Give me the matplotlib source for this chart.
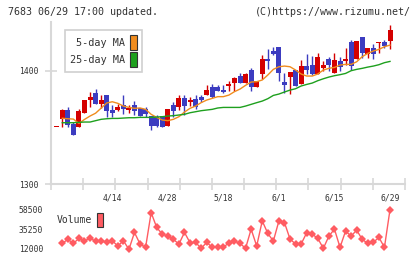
import numpy as np
import matplotlib
matplotlib.use("Agg")
import matplotlib.pyplot as plt
from matplotlib.patches import Patch

# ---------------- data ----------------
opens = [1350,1357,1365,1353,1350,1363,1374,1380,1371,1378.5,1365,1365,1370,1365,1370,1367,1366,1360,1359,1360,
         1351,1370,1368,1376,1372,1375,1377,1379,1385.6,1385.6,1383,1386.8,1389.4,1395,1389.4,1400.6,1386,1397,1410,1417,
         1421,1390,1394.7,1400.6,1388,1404,1405,1397,1402.6,1410,1397.6,1408.8,1408.5,1425.6,1410.3,1430,1414.7,1419.7,1424.4,1425,
         1426.5]
closes = [1350,1365,1352,1343,1364,1374,1377,1371,1374,1364,1363,1368,1366,1367,1364,1360,1361.5,1351,1351,1350.6,
          1366,1364,1376,1369,1374,1368,1374,1383,1376.5,1382,1381.5,1388.5,1394,1389.4,1397,1386,1391,1410,1409,1415,
          1398,1387,1398.8,1386.8,1404,1400.6,1397,1412,1405,1405,1409.4,1403.5,1410.3,1404.4,1426.5,1415.3,1419.7,1414.7,1425,1421.8,
          1436]
highs = [1350,1366,1368,1355,1366,1374,1381,1384,1379,1379,1370,1371,1379,1370,1373,1367,1368,1360,1361,1360,
         1366,1372,1378.5,1379,1376.5,1378.5,1379,1387,1388,1387,1387,1391,1394.7,1398,1398,1402,1391,1414,1419,1420.6,
         1421,1397.6,1399,1400.6,1409.4,1414.4,1413,1416,1408.8,1411.8,1416,1411.8,1420,1427,1426.5,1430,1419.7,1423.5,1425,1427,
         1440]
lows = [1350,1350,1350,1343,1350,1363,1368,1371,1367,1359,1359,1364,1362,1363,1361,1360,1359,1348,1350,1350,
        1351,1359,1365,1361,1369,1366.5,1372,1378.5,1375.6,1382,1380,1382,1382.4,1389,1389,1382.4,1386,1392.6,1401.5,1414,
        1391,1380.6,1379.4,1386.8,1388,1397,1396,1397,1400,1400,1397.6,1399.7,1405,1400.6,1410.3,1411,1411,1410.3,1415.3,1419.7,
        1419]

# moving averages and volume start at the 2nd candle
ma5 = [1358,1357.6,1357.3,1353.5,1357,1360,1362.5,1367,1371.5,1372.6,1371.2,1368.8,1367.6,1366.8,1367.1,1365.9,1361.5,1358.8,1356.5,1355.9,
       1357.1,1359.4,1363.5,1366.8,1368.8,1371.8,1374.1,1375.6,1377.1,1377.1,1378.5,1381.5,1383.8,1387.1,1390,1390.3,1391.8,1396.2,1401.2,1403.5,
       1404.1,1403.5,1400.6,1397.1,1395.3,1395.3,1397.1,1400.6,1402.1,1402.9,1405,1405.6,1405.6,1407.9,1412.4,1415.3,1417.4,1418.8,1421.2,1422.6]
ma25 = [1354.1,1354.1,1354.1,1354.4,1354.7,1354.7,1355.9,1357.1,1357.6,1357.9,1357.9,1358.2,1358.5,1358.5,1358.8,1358.8,1358.8,1359.1,1359.4,1360,
        1360.3,1360.9,1361.5,1362.9,1363.8,1364.7,1365.3,1365.9,1367.1,1367.6,1367.6,1367.6,1367.6,1368.8,1370.3,1371.8,1373.2,1375.3,1378.2,1379.4,
        1381.2,1382.9,1384.1,1386.5,1387.9,1389.1,1391.2,1392.9,1394.4,1395.6,1396.5,1397.6,1400,1401.2,1402.1,1403.2,1404.1,1405.3,1407.1,1408.2]
volume = [18588,23238,18588,24400,21688,24400,21300,21688,19750,21688,15488,21688,11613,31375,17813,13938,54625,37188,29438,27113,
          23238,17813,31375,19363,19750,12775,19750,13938,13938,13938,19363,21300,18588,12775,35250,15488,44938,30213,21300,44938,
          43000,23625,17813,17813,30988,29438,24400,12775,27113,35250,13938,32925,27113,34088,23238,18588,19750,25563,13938,58113]

date_labels = ["4/14", "4/28", "5/18", "6/1", "6/15", "6/29"]
date_label_idx = [10, 20, 30, 40, 50, 60]
price_ticks = [1300, 1400]
vol_ticks = [12000, 35250, 58500]

# ---------------- style ----------------
RED = "#d40000"
BLUE = "#3c3cc0"
ORANGE = "#f08c1e"
GREEN = "#1ea01e"
VOLC = "#ff5c62"
TXT = "#333333"
GRID = "#d8d8d8"
MONO = "DejaVu Sans Mono"

W, H = 420, 259
fig = plt.figure(figsize=(W / 100, H / 100), dpi=100)
fig.patch.set_facecolor("white")

def fx(px):
    return px / W

def fy(py):
    return 1 - py / H

# main axes: x 51..405, y 22..184
ax = fig.add_axes([fx(51), fy(184), fx(405) - fx(51), fy(22) - fy(184)])
xlim = (-1.03, 62.7)
ax.set_xlim(*xlim)
ax.set_ylim(1300, 1443)

n = len(opens)
x = np.arange(n)
o = np.array(opens); c = np.array(closes); h = np.array(highs); l = np.array(lows)
up = c >= o
cols = np.where(up, RED, BLUE)
ax.vlines(x, l, h, colors=cols, linewidth=1.0, zorder=3)
bottoms = np.minimum(o, c)
heights = np.maximum(np.abs(c - o), 0.8)
ax.bar(x, heights, bottom=bottoms, width=0.9, color=cols, linewidth=0, zorder=4)

xm = np.arange(1, n)
ax.plot(xm, ma5, color=ORANGE, linewidth=1.0, zorder=5)
ax.plot(xm, ma25, color=GREEN, linewidth=1.0, zorder=5)

for s in ["top", "right"]:
    ax.spines[s].set_visible(False)
for s in ["left", "bottom"]:
    ax.spines[s].set_color(GRID)
    ax.spines[s].set_linewidth(1.5)

ax.set_yticks(price_ticks)
ax.set_yticklabels([str(v) for v in price_ticks])
ax.tick_params(axis="y", direction="inout", length=8, width=1.2, color=GRID,
               labelsize=5.8, labelcolor=TXT, pad=4.8)
for t in ax.get_yticklabels():
    t.set_fontfamily(MONO)

ax.set_xticks(date_label_idx)
ax.set_xticklabels(date_labels)
ax.set_xticks(np.linspace(xlim[0], xlim[1], 12), minor=True)
ax.tick_params(axis="x", which="major", length=0, labelsize=5.8, labelcolor=TXT, pad=7)
ax.tick_params(axis="x", which="minor", direction="inout", length=8, width=1.2, color=GRID)
for t in ax.get_xticklabels():
    t.set_fontfamily(MONO)

leg = ax.legend(handles=[Patch(facecolor=ORANGE, edgecolor="#333333", linewidth=0.8),
                         Patch(facecolor=GREEN, edgecolor="#333333", linewidth=0.8)],
                labels=["5-day MA", "25-day MA"], markerfirst=False,
                loc="upper left", bbox_to_anchor=(fx(65), fy(30)), bbox_transform=fig.transFigure,
                prop={"family": MONO, "size": 7.3}, handlelength=0.75, handleheight=2.0,
                handletextpad=0.5, labelspacing=0.15, borderpad=0.45, borderaxespad=0,
                fancybox=False, framealpha=1, edgecolor="#d0d0d0")
leg.get_frame().set_linewidth(1.2)
for t in leg.get_texts():
    t.set_color(TXT)

# volume axes: y 203..256 ; 12000 at y=249, 58500 at y=209.3
vax = fig.add_axes([fx(51), fy(256), fx(405) - fx(51), fy(203) - fy(256)])
vax.set_xlim(*xlim)
per_px = (58500 - 12000) / (249 - 209.3)
vax.set_ylim(12000 - (256 - 249) * per_px, 12000 + (249 - 203) * per_px)
vax.plot(np.arange(1, n), volume, color=VOLC, linewidth=1.0, marker="D", markersize=4,
         markeredgewidth=0, zorder=3)
for s in vax.spines.values():
    s.set_visible(False)
vax.set_xticks([])
vax.set_yticks(vol_ticks)
vax.set_yticklabels([str(v) for v in vol_ticks])
vax.tick_params(axis="y", length=0, labelsize=5.8, labelcolor=TXT, pad=5.5)
for t in vax.get_yticklabels():
    t.set_fontfamily(MONO)

vleg = vax.legend(handles=[Patch(facecolor=VOLC, edgecolor="#333333", linewidth=0.8)],
                  labels=["Volume"], markerfirst=False, loc="upper left",
                  bbox_to_anchor=(fx(55), fy(211)), bbox_transform=fig.transFigure,
                  prop={"family": MONO, "size": 7.0}, handlelength=0.6, handleheight=1.8,
                  handletextpad=0.5, borderpad=0.2, borderaxespad=0, frameon=False)
for t in vleg.get_texts():
    t.set_color(TXT)

fig.text(fx(8), fy(12), "7683 06/29 17:00 updated.", family=MONO, size=7.2, color=TXT,
         ha="left", va="center")
fig.text(fx(411), fy(12), "(C)https://www.rizumu.net/", family=MONO, size=7.2, color=TXT,
         ha="right", va="center")

fig.savefig("out.png", dpi=100, facecolor="white")
